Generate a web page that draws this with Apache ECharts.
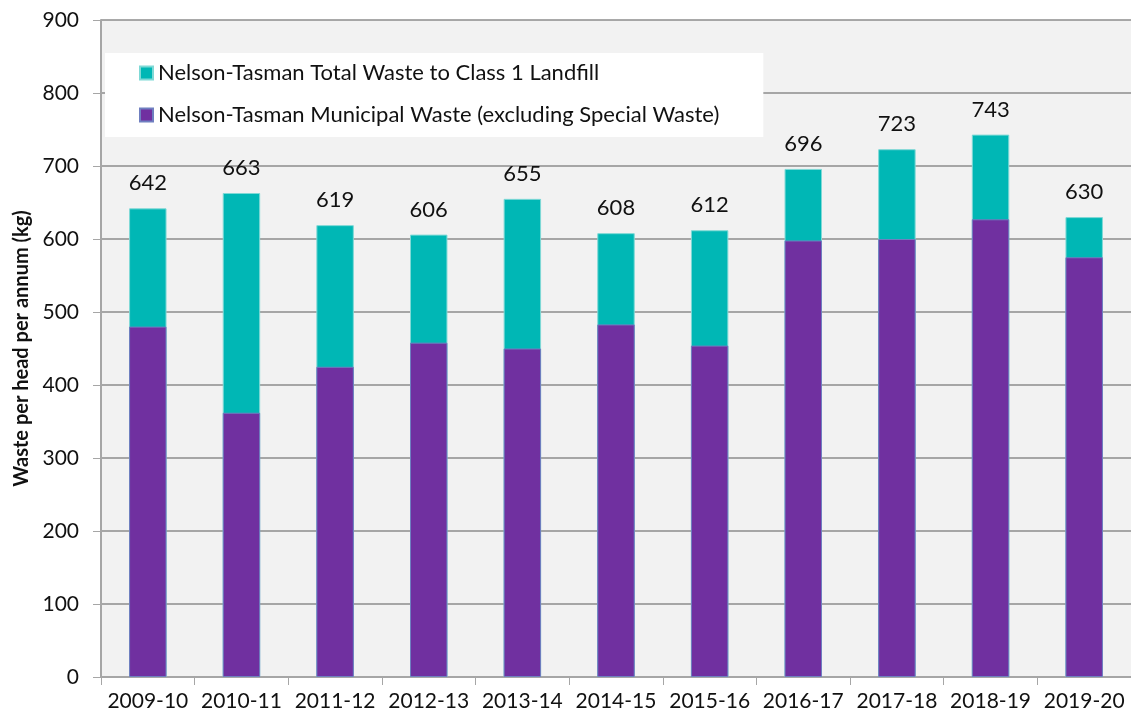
<!DOCTYPE html>
<html><head><meta charset="utf-8">
<script src="https://cdn.jsdelivr.net/npm/echarts@6/dist/echarts.min.js"></script>
<style>html,body{margin:0;padding:0;background:#fff}#c{width:1131px;height:722px}</style>
</head><body><div id="c"></div>
<script>
const categories = ['2009-10','2010-11','2011-12','2012-13','2013-14','2014-15','2015-16','2016-17','2017-18','2018-19','2019-20'];
const totalWaste = [642,663,619,606,655,608,612,696,723,743,630];
const municipalWaste = [480,362,425,458,450,483,454,598,600,627,575];
const yTicks = [0,100,200,300,400,500,600,700,800,900];
const seriesNames = ['Nelson-Tasman Total Waste to Class 1 Landfill','Nelson-Tasman Municipal Waste (excluding Special Waste)'];
const yTitle = 'Waste per head per annum (kg)';

const FONT = 'Lato, "Open Sans", sans-serif';
const chart = echarts.init(document.getElementById('c'), null, {renderer:'canvas'});
chart.setOption({
  backgroundColor:'#ffffff',
  animation:false,
  textStyle:{fontFamily:FONT},
  grid:{left:101,right:0,top:20,bottom:45,show:true,backgroundColor:'#f2f2f2',borderWidth:0,
        containLabel:false,outerBoundsMode:'none'},
  legend:{
    orient:'vertical', left:105, top:53,
    backgroundColor:'#ffffff', padding:[9,44,11,34], itemGap:20,
    icon:'rect', itemWidth:13, itemHeight:13,
    textStyle:{fontFamily:FONT,fontSize:22,color:'#111'},
    data:seriesNames
  },
  xAxis:{
    type:'category', data:categories,
    axisLine:{lineStyle:{color:'#a6a6a6',width:1}},
    axisTick:{show:true,length:8,lineStyle:{color:'#a6a6a6'}},
    axisLabel:{interval:0,hideOverlap:false,fontFamily:FONT,fontSize:21,color:'#111',margin:14}
  },
  yAxis:{
    type:'value', min:yTicks[0], max:yTicks[yTicks.length-1], interval:100,
    name:yTitle, nameLocation:'middle', nameGap:69, nameRotate:90,
    nameTextStyle:{fontFamily:FONT,fontSize:20,fontWeight:'bold',color:'#111'},
    axisLine:{show:true,lineStyle:{color:'#a6a6a6',width:2}},
    axisTick:{show:true,length:8,lineStyle:{color:'#a6a6a6'}},
    axisLabel:{fontFamily:FONT,fontSize:21,color:'#111',margin:22},
    splitLine:{lineStyle:{color:'#8c8c8c',width:1.5}}
  },
  series:[
    {name:seriesNames[0], type:'bar', data:totalWaste, barWidth:'40%', barGap:'-100%',
     itemStyle:{color:'#00b7b5',borderColor:'#7fd9d6',borderWidth:1},
     label:{show:true,position:'top',distance:14,fontFamily:FONT,fontSize:22,color:'#111'}},
    {name:seriesNames[1], type:'bar', data:municipalWaste, barWidth:'40%', barGap:'-100%',
     itemStyle:{color:'#7030a0',borderColor:'#6f7fc0',borderWidth:1}}
  ]
});
</script></body></html>
